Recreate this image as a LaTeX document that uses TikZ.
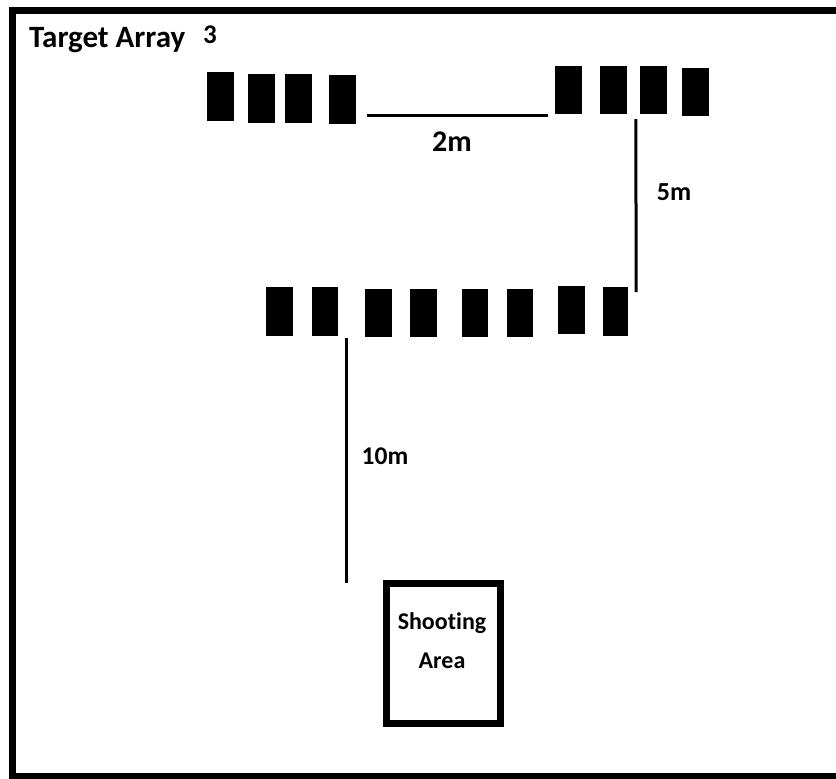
\documentclass[tikz,border=0pt]{standalone}
\usepackage{fontspec}
\setmainfont{Carlito}[Ligatures=NoCommon]
\begin{document}
\begin{tikzpicture}[x=1pt,y=-1pt,
  target/.style={fill=black,draw=none,inner sep=0pt,minimum width=27pt,minimum height=49pt},
  dist/.style={line width=3pt},
  border/.style={line width=7pt,line cap=rect},
  lbl/.style={font=\bfseries\fontsize{25}{28}\selectfont,inner sep=0pt,text=black},
  area/.style={draw=black,line width=7pt,inner sep=0pt,minimum width=114pt,minimum height=140pt}]
\useasboundingbox (0,0) rectangle (836,779);
% outer frame (right side runs off the picture)
\coordinate (ftr) at (836,10.5);
\coordinate (ftl) at (12,10.5);
\coordinate (fbl) at (12,776);
\coordinate (fbr) at (836,776);
\draw[border] (ftr) -- (ftl) -- (fbl) -- (fbr);
% title
\node[lbl,anchor=base west,font=\bfseries\fontsize{31}{34}\selectfont] (title) at (29,47) {Target Array};
\node[lbl,anchor=base west,font=\bfseries\fontsize{27}{30}\selectfont] (num) at (203,43) {3};
% top-left group
\node[target] (a1) at (220,96.5) {};
\node[target] (a2) at (261.5,98) {};
\node[target] (a3) at (298.5,98) {};
\node[target] (a4) at (342.5,99.5) {};
% top-right group
\node[target,minimum height=48pt] (b1) at (568.5,90) {};
\node[target,minimum height=48pt] (b2) at (613.5,90) {};
\node[target,minimum height=48pt] (b3) at (653.5,90) {};
\node[target,minimum height=48pt] (b4) at (695.5,92) {};
% middle row
\node[target] (c1) at (279.5,311.5) {};
\node[target,minimum width=26pt] (c2) at (325,311.5) {};
\node[target,minimum height=48pt] (c3) at (378.5,313) {};
\node[target,minimum height=48pt] (c4) at (423.5,313) {};
\node[target,minimum width=26pt,minimum height=48pt] (c5) at (475,313) {};
\node[target,minimum width=26pt,minimum height=48pt] (c6) at (520,313) {};
\node[target,minimum height=48pt] (c7) at (571.5,310) {};
\node[target,minimum width=25pt] (c8) at (615.5,311.5) {};
% shooting area
\node[area] (shoot) at (443.5,653.5) {};
\node[lbl,font=\bfseries\fontsize{24}{39}\selectfont,align=center] (shoottxt) at (442,641) {Shooting\\Area};
% distance lines
\coordinate (p2a) at ([shift={(11,-9)}]a4.south east);
\coordinate (p2b) at ([shift={(-7,1)}]b1.south west);
\draw[dist] (p2a) -- (p2b);
\coordinate (p5a) at ([shift={(-4,5)}]b3.south west);
\coordinate (p5b) at ([shift={(8,-44)}]c8.south east);
\draw[dist] (p5a) -- (p5b);
\coordinate (p10a) at ([shift={(8,2)}]c2.south east);
\coordinate (p10b) at ([shift={(-37,3)}]shoot.north west);
\draw[dist] (p10a) -- (p10a |- p10b);
% labels
\node[lbl,font=\bfseries\fontsize{30}{32}\selectfont] (l2) at (452,142) {2m};
\node[lbl,font=\bfseries\fontsize{26}{28}\selectfont] (l5) at (674,192) {5m};
\node[lbl,font=\bfseries\fontsize{25.5}{28}\selectfont] (l10) at (385,456) {10m};
\end{tikzpicture}
\end{document}
